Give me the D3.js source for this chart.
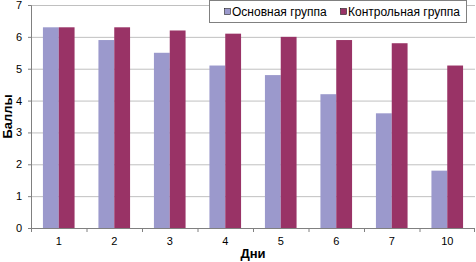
<!DOCTYPE html>
<html>
<head>
<meta charset="utf-8">
<script src="https://cdn.jsdelivr.net/npm/d3@7"></script>
<style>
  body { margin: 0; background: #fff; }
  text { font-family: Arial, "Liberation Sans", sans-serif; }
</style>
</head>
<body>
<div id="chart"></div>
<script>
const days = ["1", "2", "3", "4", "5", "6", "7", "10"];
const mainGroup = [6.3, 5.9, 5.5, 5.1, 4.8, 4.2, 3.6, 1.8];
const controlGroup = [6.3, 6.3, 6.2, 6.1, 6.0, 5.9, 5.8, 5.1];
const seriesNames = ["Основная группа", "Контрольная группа"];
const colors = ["#9b99cc", "#993366"];
const yTicks = [0, 1, 2, 3, 4, 5, 6, 7];

const W = 476, H = 262;
const margin = {top: 5, right: 1, bottom: 34, left: 31};
const width = W - margin.left - margin.right,
    height = H - margin.top - margin.bottom;

const svg = d3.select("#chart").append("svg")
    .attr("width", W)
    .attr("height", H);
const g = svg.append("g")
    .attr("transform", "translate(" + margin.left + "," + margin.top + ")");

const x = d3.scaleBand().domain(days).range([0, width]);
const x1 = d3.scaleBand().domain([0, 1])
    .range([x.bandwidth() * 0.215, x.bandwidth() * 0.785]);
const y = d3.scaleLinear().domain([0, 7]).range([height, 0]);

// gridlines
g.selectAll(".grid").data(yTicks.slice(1)).enter().append("line")
    .attr("x1", 0).attr("x2", width)
    .attr("y1", d => y(d) + 0.5).attr("y2", d => y(d) + 0.5)
    .attr("stroke", "#c0c0c0");

// bars
const data = days.map((d, i) => ({day: d, vals: [mainGroup[i], controlGroup[i]]}));
g.selectAll(".grp").data(data).enter().append("g")
    .attr("transform", d => "translate(" + x(d.day) + ",0)")
    .selectAll("rect").data(d => d.vals).enter().append("rect")
    .attr("x", (d, i) => x1(i))
    .attr("width", x1.bandwidth())
    .attr("y", d => y(d))
    .attr("height", d => height - y(d))
    .attr("fill", (d, i) => colors[i]);

// y axis
const yAxis = g.append("g")
    .call(d3.axisLeft(y).tickValues(yTicks).tickFormat(d3.format("d")).tickSize(3).tickPadding(6));
yAxis.select(".domain").attr("stroke", "#808080");
yAxis.selectAll(".tick line").attr("stroke", "#808080");
yAxis.selectAll("text").attr("font-size", 11).attr("fill", "#000");

// x axis with ticks between categories
const xAxis = g.append("g").attr("transform", "translate(0," + height + ")");
xAxis.append("line").attr("x1", 0).attr("x2", width)
    .attr("y1", 0.5).attr("y2", 0.5).attr("stroke", "#808080");
xAxis.selectAll(".sep").data(days.concat(["end"])).enter().append("line")
    .attr("x1", (d, i) => i < days.length ? x(d) + 0.5 : width - 0.5)
    .attr("x2", (d, i) => i < days.length ? x(d) + 0.5 : width - 0.5)
    .attr("y1", 0).attr("y2", 4)
    .attr("stroke", "#808080");
xAxis.selectAll(".lbl").data(days).enter().append("text")
    .attr("x", d => x(d) + x.bandwidth() / 2)
    .attr("y", 17)
    .attr("text-anchor", "middle")
    .attr("font-size", 11)
    .text(d => d);

// axis titles
svg.append("text")
    .attr("x", margin.left + width / 2)
    .attr("y", 258)
    .attr("text-anchor", "middle")
    .attr("font-size", 13)
    .attr("font-weight", "bold")
    .text("Дни");
svg.append("text")
    .attr("transform", "translate(12," + (margin.top + height / 2) + ") rotate(-90)")
    .attr("text-anchor", "middle")
    .attr("font-size", 13)
    .attr("font-weight", "bold")
    .text("Баллы");

// legend
const legend = svg.append("g");
legend.append("rect")
    .attr("x", 209.5).attr("y", 0.5)
    .attr("width", 257).attr("height", 22)
    .attr("fill", "#fff").attr("stroke", "#808080");
const lx = [224, 340];
seriesNames.forEach((name, i) => {
    legend.append("rect")
        .attr("x", lx[i] + 0.5).attr("y", 8.5)
        .attr("width", 6).attr("height", 6)
        .attr("fill", colors[i]).attr("stroke", "#000").attr("stroke-width", 0.5);
    legend.append("text")
        .attr("x", lx[i] + 8).attr("y", 16)
        .attr("font-size", 12)
        .text(name);
});
</script>
</body>
</html>
